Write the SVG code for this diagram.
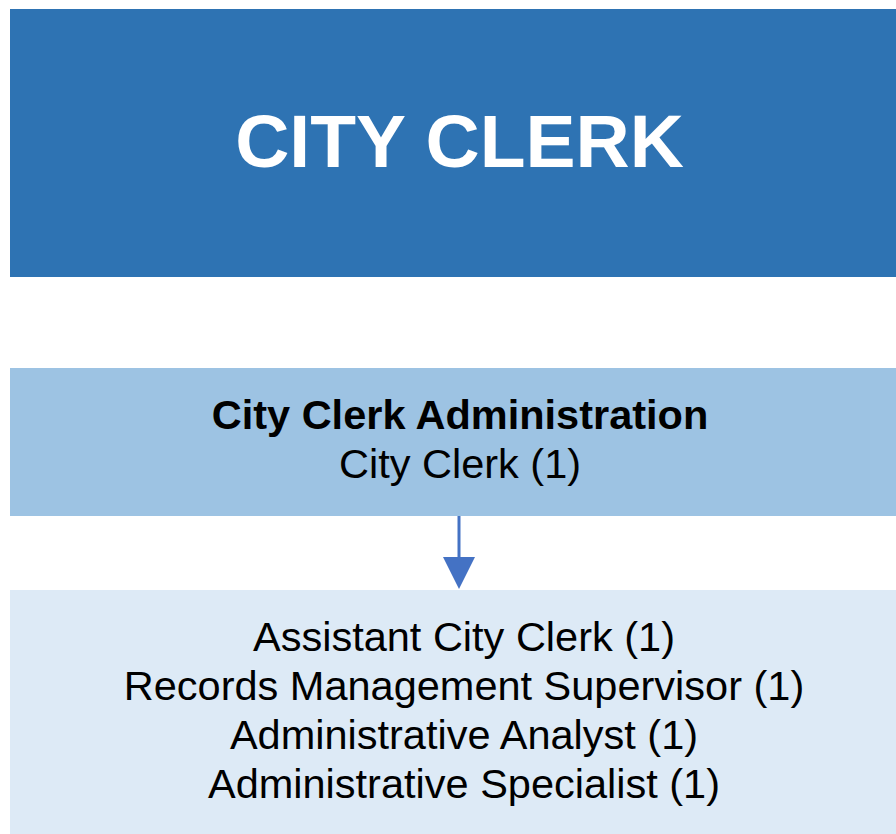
<svg xmlns="http://www.w3.org/2000/svg" width="896" height="834" viewBox="0 0 896 834">
  <style>
    .t { font-family: "Liberation Sans", Arial, sans-serif; text-anchor: middle; fill: #000; font-size: 41.5px; }
    .b { font-weight: bold; }
    .head { font-family: "Liberation Sans", Arial, sans-serif; text-anchor: middle; fill: #fff; font-weight: bold; font-size: 75px; }
    .conn { stroke: #4472C4; stroke-width: 3; fill: none; }
    .tip { fill: #4472C4; }
  </style>
  <rect width="896" height="834" fill="#fff"/>

  <g id="title">
    <rect x="10" y="9" width="900" height="268" fill="#2E73B3"/>
    <text class="head" x="459.5" y="167">CITY CLERK</text>
  </g>

  <g id="admin">
    <rect x="10" y="368" width="900" height="148" fill="#9DC3E3"/>
    <text class="t b" x="460" y="429">City Clerk Administration</text>
    <text class="t" x="460" y="478">City Clerk (1)</text>
  </g>

  <g id="staff">
    <rect x="10" y="590" width="900" height="250" fill="#DDEAF6"/>
    <text class="t" x="464" y="651">Assistant City Clerk (1)</text>
    <text class="t" x="464" y="700">Records Management Supervisor (1)</text>
    <text class="t" x="464" y="749">Administrative Analyst (1)</text>
    <text class="t" x="464" y="798">Administrative Specialist (1)</text>
  </g>

  <g id="connectors">
    <line class="conn" x1="459" y1="516" x2="459" y2="562"/>
    <path class="tip" d="M443,557 L475,557 L459,589 Z"/>
  </g>
</svg>
